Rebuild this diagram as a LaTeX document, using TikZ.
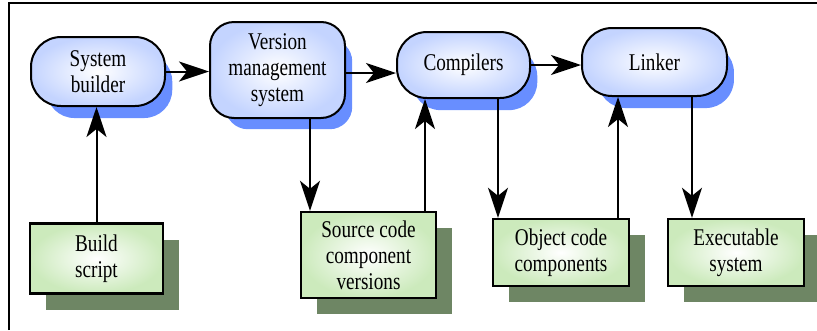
\documentclass[tikz,border=0pt]{standalone}
\usepackage{fontspec}
\setmainfont{Liberation Serif}[FakeStretch=0.8]
\usepackage{xcolor}
\usetikzlibrary{arrows.meta}
\usetikzlibrary{shadows}

\definecolor{tooledge}{RGB}{196,212,255}
\definecolor{toolshadow}{RGB}{104,142,255}
\definecolor{fileedge}{RGB}{204,234,188}
\definecolor{fileshadow}{RGB}{110,134,100}

\tikzset{
  tool/.style={draw, line width=2pt, rounded corners=30pt, shading=radial,
    inner color=white, outer color=tooledge, align=center,
    font=\fontsize{24}{26}\selectfont,
    drop shadow={shadow xshift=12pt, shadow yshift=-15pt, shadow scale=0.94,
      fill=toolshadow, opacity=1}},
  filebox/.style={draw, line width=2.4pt, shading=radial,
    inner color=white, outer color=fileedge, align=center,
    font=\fontsize{24}{26}\selectfont,
    drop shadow={shadow xshift=16pt, shadow yshift=-16pt,
      fill=fileshadow, opacity=1}},
  flow/.style={line width=2pt, -{Stealth[length=30pt, width=20pt, inset=8pt]}}
}

\begin{document}
\begin{tikzpicture}[x=1pt, y=-1pt]
\useasboundingbox (0,0) rectangle (817,330);
\draw [line width=2.4pt] (9,330) -- (9,3) -- (817,3);

% tools along the top
\node [tool, minimum width=134pt, minimum height=69pt] (builder) at (98,71.5) {System\\builder};
\node [tool, rounded corners=24pt, minimum width=135pt, minimum height=96pt] (vms) at (277.5,70) {Version\\management\\system};
\node [tool, minimum width=133pt, minimum height=66pt] (compilers) at (463.5,65) {Compilers};
\node [tool, minimum width=145pt, minimum height=68pt] (linker) at (654.5,62) {Linker};

% files along the bottom
\node [filebox, minimum width=133pt, minimum height=70pt] (script) at (96.5,258.5) {Build\\script};
\node [filebox, minimum width=135pt, minimum height=86pt] (source) at (368.5,255) {Source code\\component\\versions};
\node [filebox, minimum width=136pt, minimum height=67pt] (objects) at (561,252.5) {Object code\\components};
\node [filebox, minimum width=136pt, minimum height=67pt] (exec) at (736,252.5) {Executable\\system};

\draw [flow] (builder.east) -- (builder.east -| vms.west);
\draw [flow] ([yshift=-3pt]vms.east) -- ([yshift=-3pt]vms.east -| compilers.west);
\draw [flow] (compilers.east) -- (compilers.east -| linker.west);

\draw [flow] (script.north) -- (script.north |- builder.south);
\draw [flow] ([xshift=32.5pt]vms.south) -- ([xshift=32.5pt]vms.south |- source.north);
\draw [flow] ([xshift=56.5pt]source.north) -- ([xshift=56.5pt]source.north |- compilers.south);
\draw [flow] ([xshift=34.5pt]compilers.south) -- ([xshift=34.5pt]compilers.south |- objects.north);
\draw [flow] ([xshift=57pt]objects.north) -- ([xshift=57pt]objects.north |- linker.south);
\draw [flow] ([xshift=37.5pt]linker.south) -- ([xshift=37.5pt]linker.south |- exec.north);

\end{tikzpicture}
\end{document}
